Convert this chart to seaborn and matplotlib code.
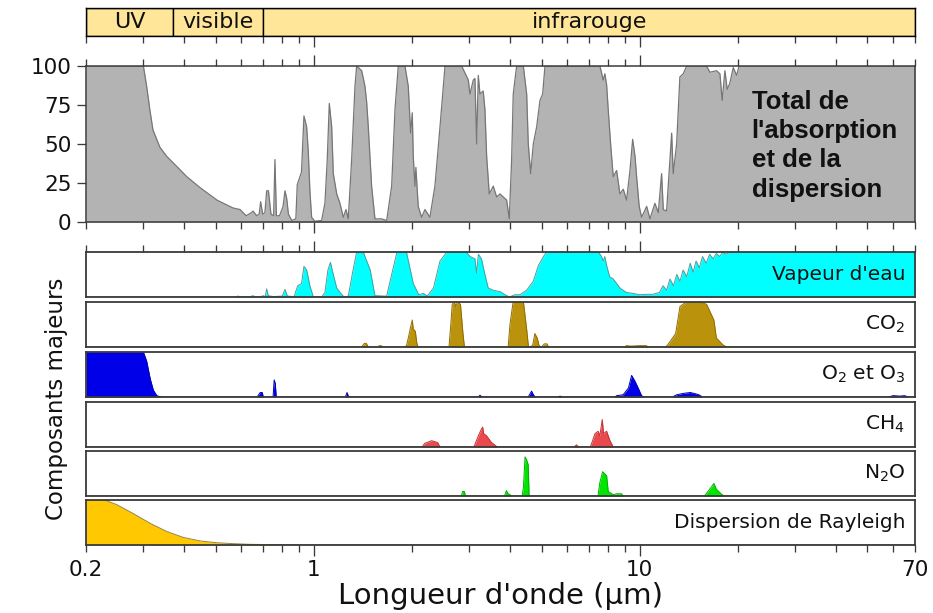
import matplotlib
matplotlib.use("Agg")
import matplotlib.pyplot as plt
import seaborn as sns
import numpy as np
from matplotlib.ticker import FixedLocator, NullFormatter, FixedFormatter

sns.set_theme(style="white")
plt.rcParams['font.family'] = ['DejaVu Sans']
plt.rcParams['mathtext.default'] = 'regular'

# ---------------- data ----------------
band_names = ["UV", "visible", "infrarouge"]
band_edges = [0.2, 0.37, 0.7, 70]

total = [(0.2, 100), (0.3, 100), (0.307, 87), (0.314, 72), (0.321, 59), (0.337, 48), (0.354, 42),
         (0.370, 38), (0.408, 29), (0.448, 22), (0.505, 14), (0.565, 9), (0.594, 8), (0.62, 4),
         (0.644, 6), (0.651, 7), (0.668, 4), (0.680, 5), (0.687, 13), (0.697, 5), (0.708, 6),
         (0.717, 20), (0.726, 20), (0.739, 5), (0.753, 4), (0.760, 40), (0.768, 4), (0.785, 4),
         (0.805, 10), (0.816, 20), (0.826, 15), (0.836, 5), (0.856, 1), (0.881, 2), (0.890, 24),
         (0.907, 29), (0.917, 32), (0.933, 68), (0.951, 61), (0.962, 45), (0.973, 20), (0.985, 3),
         (1.008, 0.5), (1.057, 1), (1.082, 12), (1.100, 40), (1.116, 76), (1.135, 61), (1.148, 31),
         (1.176, 18), (1.203, 12), (1.232, 3), (1.256, 8), (1.276, 2), (1.307, 40), (1.338, 87),
         (1.354, 100), (1.403, 97), (1.436, 87), (1.453, 77), (1.470, 61), (1.505, 23), (1.541, 2),
         (1.615, 2), (1.674, 1), (1.734, 23), (1.775, 72), (1.817, 100), (1.905, 100), (1.950, 87),
         (1.983, 57), (2.006, 70), (2.020, 42), (2.044, 23), (2.058, 35), (2.092, 10), (2.143, 3),
         (2.194, 8), (2.272, 3), (2.354, 23), (2.440, 61), (2.528, 100), (2.844, 100), (2.980, 91),
         (3.016, 82), (3.087, 91), (3.123, 92), (3.162, 50), (3.198, 94), (3.236, 82), (3.311, 84),
         (3.352, 72), (3.393, 42), (3.456, 18), (3.555, 23), (3.642, 16), (3.728, 18), (3.816, 16),
         (3.908, 14), (3.981, 2), (4.048, 40), (4.094, 82), (4.194, 100), (4.396, 100), (4.502, 82),
         (4.553, 50), (4.631, 31), (4.717, 50), (4.831, 61), (4.946, 78), (5.040, 82), (5.123, 100),
         (7.554, 100), (7.732, 91), (7.825, 95), (7.919, 88), (8.010, 72), (8.147, 50), (8.299, 29),
         (8.50, 33), (8.70, 18), (8.91, 21), (9.12, 14), (9.34, 33), (9.52, 53), (9.68, 42),
         (9.79, 29), (9.97, 10), (10.14, 3), (10.51, 10), (10.76, 2), (11.14, 12), (11.41, 6),
         (11.68, 31), (11.82, 8), (12.10, 7), (12.39, 40), (12.54, 57), (12.68, 31), (12.99, 50),
         (13.29, 93), (13.61, 95), (13.94, 100), (16.05, 100), (16.43, 96), (17.22, 97), (17.64, 95),
         (17.92, 78), (18.27, 97), (18.57, 85), (18.92, 89), (19.38, 99), (19.84, 94), (20.21, 100),
         (70, 100)]

water = [(0.2, 0), (0.57, 0), (0.585, 2), (0.6, 0), (0.64, 1), (0.651, 3), (0.66, 0), (0.69, 1),
         (0.70, 3), (0.71, 1), (0.717, 18), (0.725, 3), (0.75, 1), (0.80, 2), (0.816, 17), (0.83, 2),
         (0.87, 1), (0.893, 25), (0.917, 30), (0.933, 68), (0.951, 60), (0.973, 25), (0.997, 0),
         (1.06, 1), (1.082, 10), (1.105, 60), (1.125, 77), (1.148, 50), (1.176, 20), (1.21, 8),
         (1.24, 0), (1.276, 2), (1.32, 60), (1.354, 100), (1.419, 100), (1.49, 60), (1.541, 3),
         (1.674, 2), (1.734, 50), (1.80, 100), (1.925, 100), (2.02, 30), (2.10, 5), (2.17, 8),
         (2.23, 2), (2.33, 20), (2.44, 80), (2.56, 100), (2.94, 100), (3.016, 90), (3.123, 85),
         (3.16, 53), (3.20, 95), (3.27, 85), (3.352, 50), (3.43, 20), (3.555, 15), (3.728, 12),
         (3.908, 3), (3.99, 0), (4.14, 5), (4.29, 5), (4.50, 15), (4.717, 35), (4.89, 70),
         (5.07, 90), (5.18, 100), (7.48, 100), (7.64, 90), (7.73, 80), (7.82, 90), (7.92, 70),
         (8.09, 45), (8.30, 40), (8.50, 30), (8.70, 20), (8.90, 15), (9.12, 10), (9.57, 8),
         (9.99, 5), (10.51, 6), (10.96, 6), (11.5, 10), (11.8, 25), (12.1, 15), (12.39, 40),
         (12.7, 25), (13.0, 50), (13.3, 35), (13.6, 60), (13.95, 45), (14.3, 75), (14.6, 55),
         (14.9, 80), (15.25, 65), (15.6, 90), (16.0, 75), (16.4, 95), (16.8, 85), (17.2, 97),
         (17.6, 90), (18.0, 100), (18.4, 95), (18.9, 100), (70, 100)]

co2 = [(0.2, 0), (1.40, 0), (1.43, 8), (1.45, 8), (1.47, 0), (1.57, 0), (1.59, 3), (1.61, 3),
       (1.63, 0), (1.90, 0), (1.925, 3), (1.95, 20), (1.983, 45), (2.006, 60), (2.02, 40),
       (2.05, 35), (2.07, 10), (2.09, 0), (2.60, 0), (2.64, 60), (2.66, 95), (2.70, 100),
       (2.73, 90), (2.76, 100), (2.82, 95), (2.87, 30), (2.90, 0), (3.95, 0), (4.0, 50),
       (4.09, 100), (4.40, 100), (4.50, 40), (4.56, 0), (4.66, 2), (4.70, 5), (4.77, 30),
       (4.85, 20), (4.92, 2), (5.0, 0), (5.10, 7), (5.20, 7), (5.25, 0), (9.0, 0), (9.1, 3),
       (9.4, 2), (10.0, 3), (10.5, 3), (10.6, 0), (12.0, 0), (12.2, 5), (12.9, 30), (13.3, 90),
       (13.9, 100), (15.2, 100), (16.05, 95), (16.9, 60), (17.2, 20), (18.0, 5), (18.5, 0), (70, 0)]

o2o3 = [(0.2, 100), (0.3, 100), (0.307, 80), (0.315, 40), (0.322, 15), (0.33, 3), (0.34, 0),
        (0.67, 0), (0.685, 10), (0.695, 10), (0.70, 0), (0.75, 0), (0.756, 38), (0.762, 30),
        (0.767, 0), (1.25, 0), (1.265, 10), (1.28, 0), (3.2, 0), (3.236, 4), (3.28, 0), (4.55, 0),
        (4.66, 13), (4.72, 5), (4.78, 0), (5.6, 0), (5.7, 2), (5.8, 0), (8.4, 0), (8.5, 3),
        (8.9, 5), (9.24, 20), (9.45, 48), (9.68, 35), (9.9, 20), (10.14, 3), (10.3, 0), (12.6, 0),
        (13.0, 5), (13.6, 8), (14.3, 10), (14.7, 8), (15.2, 5), (15.6, 0), (58, 0), (60, 3),
        (63, 2), (65, 3), (67, 0), (70, 0)]

ch4 = [(0.2, 0), (2.15, 0), (2.19, 8), (2.30, 14), (2.40, 10), (2.44, 0), (3.10, 0), (3.20, 25),
       (3.27, 40), (3.30, 44), (3.32, 30), (3.39, 25), (3.51, 10), (3.66, 0), (6.3, 0), (6.4, 5),
       (6.5, 0), (7.05, 0), (7.1, 5), (7.3, 30), (7.46, 35), (7.55, 25), (7.68, 61), (7.75, 30),
       (7.92, 35), (8.1, 15), (8.3, 0), (70, 0)]

n2o = [(0.2, 0), (2.84, 0), (2.86, 10), (2.90, 10), (2.92, 0), (3.85, 0), (3.9, 12), (3.95, 5),
       (4.0, 3), (4.05, 0), (4.36, 0), (4.40, 20), (4.45, 87), (4.50, 80), (4.55, 70), (4.58, 0),
       (7.45, 0), (7.55, 30), (7.7, 54), (7.92, 45), (8.01, 10), (8.3, 3), (8.5, 5), (8.8, 5),
       (8.9, 0), (15.8, 0), (16.0, 5), (16.6, 20), (16.9, 28), (17.2, 15), (17.9, 3), (18.2, 0),
       (70, 0)]

rayleigh = [(0.2, 100), (0.228, 100), (0.248, 90), (0.279, 70), (0.315, 48), (0.354, 30),
            (0.397, 17), (0.448, 9), (0.504, 5), (0.566, 3), (0.637, 1.5), (0.717, 1),
            (0.804, 0.5), (0.9, 0), (70, 0)]

panel_labels = ["Vapeur d'eau", r"$\mathregular{CO_2}$", r"$\mathregular{O_2}$ et $\mathregular{O_3}$",
                r"$\mathregular{CH_4}$", r"$\mathregular{N_2O}$", "Dispersion de Rayleigh"]
panel_series = [water, co2, o2o3, ch4, n2o, rayleigh]
panel_fill = ["#00FFFF", "#BB920C", "#0000E8", "#E84A4E", "#00E600", "#FFC800"]
panel_edge = ["#4C9C9C", "#8E6C00", "#0000B0", "#C03035", "#00B000", "#9A8040"]

major_x = [1, 10]
minor_x = [0.2, 0.3, 0.4, 0.5, 0.6, 0.7, 0.8, 0.9, 2, 3, 4, 5, 6, 7, 8, 9,
           20, 30, 40, 50, 60, 70]
yticks_main = [0, 25, 50, 75, 100]

# ---------------- layout ----------------
W_PX, H_PX = 933, 613
fig = plt.figure(figsize=(W_PX / 100, H_PX / 100), dpi=100)
L = 86 / W_PX
WID = (915 - 86) / W_PX


def rect(top, bottom):
    return [L, 1 - bottom / H_PX, WID, (bottom - top) / H_PX]


SPINE = "#3a3a3a"
MAJ_LEN, MIN_LEN = 7.9, 4.7
TW = 0.95


def setup_x(ax):
    ax.set_xscale("log")
    ax.set_xlim(0.2, 70)
    ax.xaxis.set_major_locator(FixedLocator(major_x))
    ax.xaxis.set_minor_locator(FixedLocator(minor_x))
    ax.xaxis.set_major_formatter(NullFormatter())
    ax.xaxis.set_minor_formatter(NullFormatter())
    ax.tick_params(axis="x", which="major", length=MAJ_LEN, width=TW, color=SPINE, direction="out")
    ax.tick_params(axis="x", which="minor", length=MIN_LEN, width=TW, color=SPINE, direction="out")
    ax.tick_params(axis="x", which="both", bottom=False, top=False)
    ax.set_yticks([])
    ax.grid(False)


# band axis
axb = fig.add_axes(rect(8, 36))
setup_x(axb)
axb.set_ylim(0, 1)
axb.tick_params(axis="x", which="both", bottom=True)
for s in axb.spines.values():
    s.set_color("black")
    s.set_linewidth(1.0)
for i, name in enumerate(band_names):
    lo, hi = band_edges[i], band_edges[i + 1]
    axb.axvspan(lo, hi, facecolor="#FFE699", edgecolor="black", linewidth=1.0)
    axb.text(np.sqrt(lo * hi), 0.5, name, ha="center", va="center", fontsize=16, color="#111111")

# main panel
axm = fig.add_axes(rect(66, 222))
setup_x(axm)
axm.tick_params(axis="x", which="both", bottom=True, top=True)
wl = [p[0] for p in total]
pc = [p[1] for p in total]
axm.fill_between(wl, 0, pc, color="#B3B3B3", linewidth=0)
sns.lineplot(x=wl, y=pc, ax=axm, color="#767676", linewidth=0.9, estimator=None, sort=False, legend=False)
axm.set_ylim(0, 100)
axm.set_yticks(yticks_main)
axm.set_yticklabels([str(v) for v in yticks_main])
axm.tick_params(axis="y", which="major", left=True, length=6.5, width=TW, color=SPINE,
                direction="out", labelsize=15.5, pad=4, labelcolor="#111111")
for side in ["top", "bottom", "left", "right"]:
    axm.spines[side].set_color(SPINE)
    axm.spines[side].set_linewidth(1.1)
axm.set_xlabel("")
axm.set_ylabel("%", rotation=0, fontsize=15.5, ha="center", va="center", color="#111111")
axm.yaxis.set_label_coords((22 - 86) / 829, 0.5)
axm.text(0.803, 0.49, "Total de\nl'absorption\net de la\ndispersion", transform=axm.transAxes,
         ha="left", va="center", fontsize=18.5, fontweight="bold", family="Liberation Sans",
         linespacing=1.28, color="#111111")

# sub panels
tops = [252, 302, 352, 402, 451, 500]
axes_sub = []
for i, (lab, ser) in enumerate(zip(panel_labels, panel_series)):
    ax = fig.add_axes(rect(tops[i], tops[i] + 45))
    setup_x(ax)
    x = [p[0] for p in ser]
    y = [p[1] for p in ser]
    ax.fill_between(x, 0, y, color=panel_fill[i], linewidth=0)
    sns.lineplot(x=x, y=y, ax=ax, color=panel_edge[i], linewidth=0.7, estimator=None,
                 sort=False, legend=False)
    ax.set_ylim(0, 100)
    ax.set_ylabel("")
    ax.set_xlabel("")
    for s in ax.spines.values():
        s.set_color(SPINE)
        s.set_linewidth(1.3)
    ax.text(0.988, 0.5, lab, transform=ax.transAxes, ha="right", va="center",
            fontsize=14.5, color="#111111")
    axes_sub.append(ax)

axes_sub[0].tick_params(axis="x", which="both", top=True)

axl = axes_sub[-1]
axl.tick_params(axis="x", which="both", bottom=True)
axl.xaxis.set_major_locator(FixedLocator([0.2, 1, 10, 70]))
axl.xaxis.set_minor_locator(FixedLocator([v for v in minor_x if v not in (0.2, 70)]))
axl.xaxis.set_major_formatter(FixedFormatter(["0.2", "1", "10", "70"]))
axl.tick_params(axis="x", which="major", labelsize=15.5, pad=3, labelcolor="#111111")
for t, loc in zip(axl.xaxis.get_major_ticks(), [0.2, 1, 10, 70]):
    if loc in (0.2, 70):
        t.tick1line.set_markersize(MIN_LEN)
axl.set_xlabel("Longueur d'onde (µm)", fontsize=21, labelpad=1, color="#111111")

fig.text(56 / W_PX, 1 - 399 / H_PX, "Composants majeurs", rotation=90, ha="center",
         va="center", fontsize=16.5, color="#111111")

fig.savefig("out.png", dpi=100, facecolor="white")
